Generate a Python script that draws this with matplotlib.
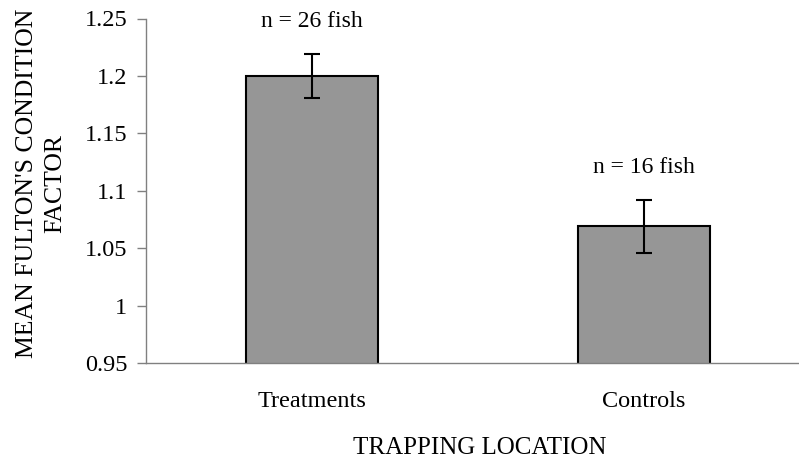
import matplotlib
matplotlib.use("Agg")
import matplotlib.pyplot as plt

# data
locations = ["Treatments", "Controls"]
mean_k = [1.2, 1.069]
se_k = [0.019, 0.023]
n_labels = ["n = 26 fish", "n = 16 fish"]

plt.rcParams['font.family'] = ['Liberation Serif', 'DejaVu Serif']

fig = plt.figure(figsize=(7.99, 4.62), dpi=100)
# axes runs past the right edge, like the original
ax = fig.add_axes([146 / 799, 99 / 462, 664 / 799, 344.5 / 462])

x = range(len(locations))
ax.bar(x, mean_k, width=0.4, color="#969696", edgecolor="black", linewidth=1.5,
       yerr=se_k, error_kw=dict(ecolor="black", elinewidth=1.5, capsize=5.5, capthick=1.5),
       zorder=2)

for i, (m, s, lab) in enumerate(zip(mean_k, se_k, n_labels)):
    ax.text(i, m + s + 0.028, lab, ha="center", va="center", fontsize=17)

ax.set_xlim(-0.5, 1.5)
ax.set_ylim(0.95, 1.25)
ax.set_yticks([0.95, 1, 1.05, 1.1, 1.15, 1.2, 1.25])
ax.set_yticklabels(["0.95", "1", "1.05", "1.1", "1.15", "1.2", "1.25"])
ax.set_xticks(list(x))
ax.set_xticklabels(locations)

ax.tick_params(axis="y", direction="out", length=6.5, width=1, color="#808080",
               pad=7, labelsize=17.5)
ax.tick_params(axis="x", length=0, pad=20, labelsize=17.5)

for side in ["top", "right"]:
    ax.spines[side].set_visible(False)
for side in ["left", "bottom"]:
    ax.spines[side].set_color("#808080")
    ax.spines[side].set_linewidth(1)

fig.text(41 / 799, 1 - 183.5 / 462, "MEAN FULTON'S CONDITION\nFACTOR", rotation=90,
         ha="center", va="center", fontsize=18.5, linespacing=1.4)
fig.text(480 / 799, 1 - 448 / 462, "TRAPPING LOCATION", ha="center", va="center",
         fontsize=18)

fig.savefig("out.png", dpi=100)
